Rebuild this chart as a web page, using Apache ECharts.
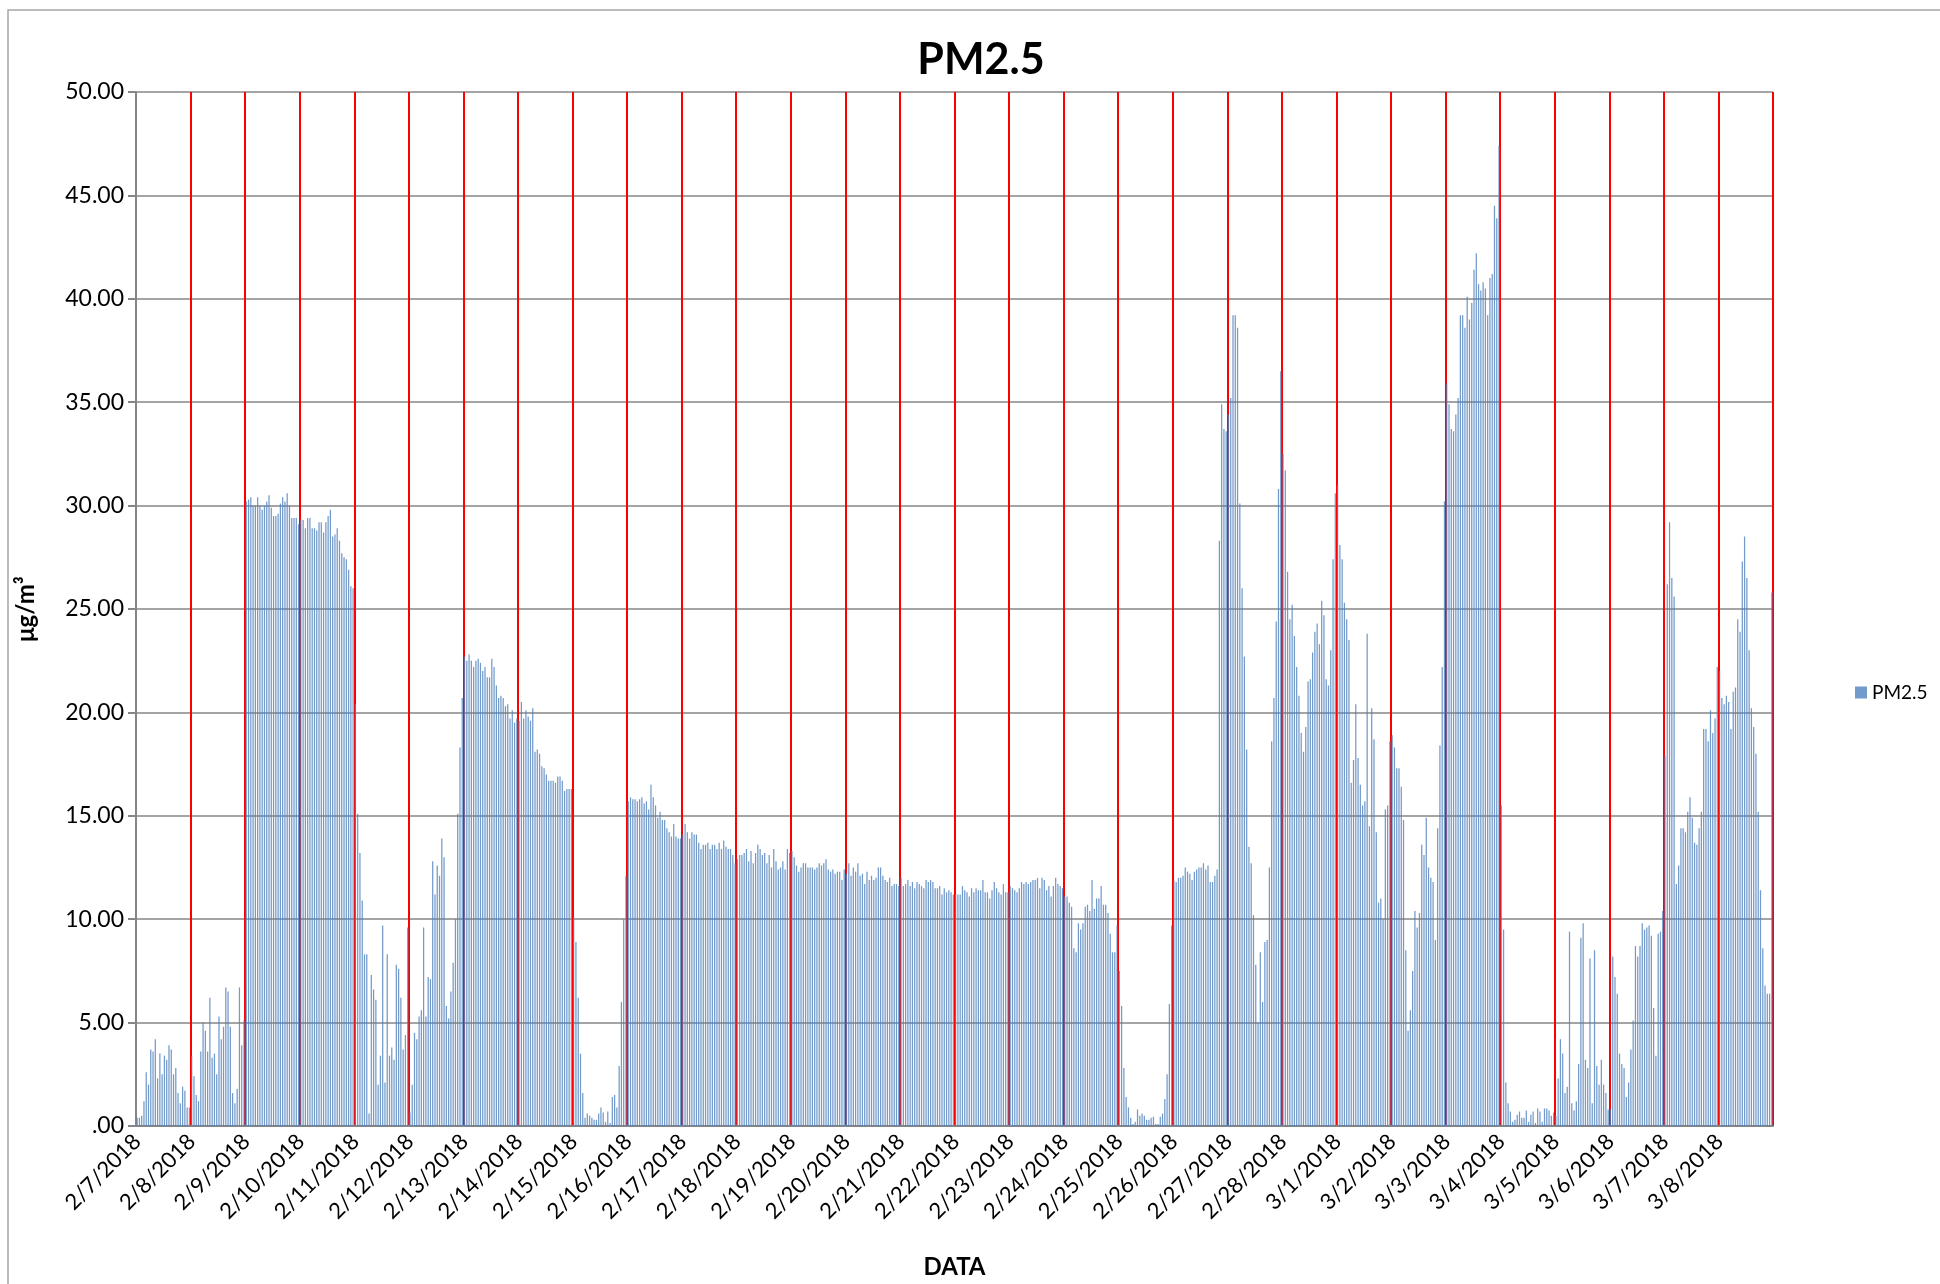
<!DOCTYPE html>
<html>
<head>
<meta charset="utf-8">
<title>PM2.5</title>
<script src="https://cdn.jsdelivr.net/npm/echarts@6/dist/echarts.min.js"></script>
<style>
  html, body { margin: 0; padding: 0; background: #fff; }
  #chart { width: 1940px; height: 1284px; }
</style>
</head>
<body>
<div id="chart"></div>
<script>
// one label per day, hourly readings below
var dayLabels = ['2/7/2018', '2/8/2018', '2/9/2018', '2/10/2018', '2/11/2018', '2/12/2018',
  '2/13/2018', '2/14/2018', '2/15/2018', '2/16/2018', '2/17/2018', '2/18/2018', '2/19/2018',
  '2/20/2018', '2/21/2018', '2/22/2018', '2/23/2018', '2/24/2018', '2/25/2018', '2/26/2018',
  '2/27/2018', '2/28/2018', '3/1/2018', '3/2/2018', '3/3/2018', '3/4/2018', '3/5/2018',
  '3/6/2018', '3/7/2018', '3/8/2018'];

var yTicks = [0, 5, 10, 15, 20, 25, 30, 35, 40, 45, 50];

// PM2.5, µg/m3, 24 values per day
var pm25 = [
  // 2/7
  0.4, 0.4, 0.5, 1.2, 2.6, 2.0, 3.7, 3.6, 4.2, 2.3, 3.5, 2.5, 3.4, 3.2, 3.9, 3.7, 2.5, 2.8, 1.6, 1.1, 1.9, 1.7, 0.9, 0.9,
  // 2/8
  3.4, 2.4, 1.5, 1.2, 3.6, 5.0, 4.6, 3.6, 6.2, 3.3, 3.5, 2.5, 5.3, 4.2, 4.8, 6.7, 6.5, 4.8, 1.6, 1.1, 1.8, 6.7, 3.9, 5.1,
  // 2/9
  30.2, 30.3, 30.4, 30.0, 30.0, 30.4, 30.0, 29.8, 30.0, 30.2, 30.5, 29.9, 29.5, 29.5, 29.6, 30.1, 30.4, 30.2, 30.6, 30.0, 29.4, 29.4, 29.4, 29.1,
  // 2/10
  29.3, 29.3, 28.9, 29.4, 29.4, 28.9, 28.9, 28.8, 29.2, 29.2, 28.7, 29.2, 29.5, 29.8, 28.5, 28.6, 28.9, 28.3, 27.7, 27.5, 27.4, 26.9, 26.1, 26.0,
  // 2/11
  20.4, 15.1, 13.2, 10.9, 8.3, 8.3, 0.6, 7.3, 6.6, 6.1, 2.0, 3.4, 9.7, 2.1, 8.3, 3.4, 3.8, 3.2, 7.8, 7.6, 6.2, 3.7, 4.4, 9.6,
  // 2/12
  0.65, 2.0, 4.5, 4.2, 5.3, 5.6, 9.6, 5.3, 7.2, 7.1, 12.8, 11.2, 12.6, 12.1, 13.9, 13.0, 5.8, 5.2, 6.5, 7.9, 10.0, 15.1, 18.3, 20.7,
  // 2/13
  22.7, 22.5, 22.8, 22.5, 22.2, 22.5, 22.6, 22.4, 22.0, 22.2, 21.7, 21.7, 22.6, 22.2, 21.3, 20.7, 20.8, 20.7, 20.3, 20.4, 19.7, 20.1, 19.5, 19.7,
  // 2/14
  19.6, 20.5, 19.7, 20.1, 19.8, 19.6, 20.2, 18.1, 18.2, 18.0, 17.4, 17.3, 17.0, 16.7, 16.7, 16.7, 16.6, 16.9, 16.9, 16.7, 16.2, 16.3, 16.3, 16.3,
  // 2/15
  10.1, 8.9, 6.2, 3.5, 1.6, 0.4, 0.6, 0.5, 0.4, 0.3, 0.3, 0.6, 0.9, 0.65, 0.2, 0.7, 0.15, 1.4, 1.5, 0.9, 2.9, 6.0, 10.0, 12.1,
  // 2/16
  15.7, 15.9, 15.8, 15.8, 15.7, 15.8, 15.9, 15.6, 15.7, 15.3, 16.5, 15.9, 15.5, 14.9, 15.2, 14.8, 14.8, 14.4, 14.2, 14.0, 14.6, 14.0, 13.9, 13.9,
  // 2/17
  14.1, 14.6, 14.2, 13.9, 14.2, 14.1, 14.1, 13.7, 13.4, 13.6, 13.6, 13.7, 13.4, 13.6, 13.6, 13.4, 13.7, 13.4, 13.8, 13.5, 13.4, 13.4, 13.1, 12.7,
  // 2/18
  12.9, 13.1, 13.1, 13.2, 13.4, 12.8, 13.3, 12.7, 13.2, 13.6, 13.4, 13.1, 13.2, 12.7, 13.1, 12.5, 13.4, 12.8, 12.4, 12.5, 12.8, 12.4, 13.4, 13.2,
  // 2/19
  13.3, 13.0, 12.6, 12.3, 12.5, 12.7, 12.7, 12.5, 12.5, 12.5, 12.4, 12.5, 12.7, 12.6, 12.7, 12.9, 12.4, 12.3, 12.4, 12.2, 12.3, 12.3, 11.9, 12.4,
  // 2/20
  12.2, 12.7, 12.1, 12.5, 12.3, 12.7, 12.1, 12.2, 11.7, 12.3, 11.9, 12.1, 11.9, 12.0, 12.5, 12.5, 12.1, 11.9, 11.8, 12.0, 11.6, 11.7, 11.7, 11.6,
  // 2/21
  12.0, 11.6, 11.7, 11.9, 11.6, 11.8, 11.5, 11.8, 11.7, 11.6, 11.5, 11.9, 11.8, 11.9, 11.8, 11.5, 11.5, 11.6, 11.2, 11.5, 11.3, 11.4, 11.3, 11.2,
  // 2/22
  11.2, 11.2, 11.2, 11.6, 11.4, 11.3, 11.1, 11.5, 11.3, 11.5, 11.4, 11.4, 11.9, 11.3, 11.3, 11.0, 11.4, 11.8, 11.5, 11.3, 11.2, 11.7, 11.3, 11.3,
  // 2/23
  11.6, 11.5, 11.4, 11.3, 11.5, 11.8, 11.7, 11.8, 11.7, 11.8, 11.9, 11.9, 12.0, 11.5, 12.0, 11.9, 11.4, 11.6, 11.1, 11.6, 12.0, 11.7, 11.6, 11.5,
  // 2/24
  11.1, 11.1, 10.8, 10.6, 8.6, 8.4, 9.8, 9.5, 9.8, 10.6, 10.7, 10.4, 11.9, 10.5, 11.0, 11.0, 11.6, 10.7, 10.7, 10.3, 9.3, 8.4, 8.4, 9.7,
  // 2/25
  7.5, 5.8, 2.8, 1.4, 0.9, 0.4, 0.1, 0.2, 0.8, 0.5, 0.6, 0.5, 0.3, 0.3, 0.4, 0.45, 0.1, 0.1, 0.45, 0.6, 1.3, 2.5, 5.9, 9.7,
  // 2/26
  11.9, 11.8, 12.0, 12.0, 12.1, 12.5, 12.3, 12.2, 11.9, 12.3, 12.4, 12.5, 12.5, 12.7, 12.4, 12.6, 11.8, 11.8, 12.1, 12.4, 28.3, 34.9, 33.7, 33.6,
  // 2/27
  34.4, 35.2, 39.2, 39.2, 38.6, 30.1, 26.0, 22.7, 18.2, 13.5, 12.7, 10.2, 7.8, 5.0, 8.4, 6.0, 8.9, 9.0, 12.5, 18.6, 20.7, 24.4, 30.8, 36.5,
  // 2/28
  32.5, 31.7, 26.8, 24.5, 25.2, 23.7, 22.2, 20.8, 19.0, 18.1, 19.3, 21.5, 21.6, 22.9, 23.9, 24.3, 23.3, 25.4, 24.7, 21.6, 21.3, 23.0, 27.4, 30.6,
  // 3/1
  31.0, 28.1, 27.4, 25.3, 24.5, 23.5, 16.6, 17.7, 20.4, 17.8, 16.5, 15.5, 15.7, 23.8, 14.5, 20.2, 18.7, 14.2, 10.8, 11.0, 10.0, 15.3, 15.5, 18.6,
  // 3/2
  18.9, 18.3, 17.3, 17.3, 16.4, 14.8, 8.5, 4.6, 5.6, 7.5, 10.4, 9.6, 10.3, 13.6, 13.1, 14.9, 12.5, 12.0, 11.8, 9.0, 14.4, 18.4, 22.2, 30.2,
  // 3/3
  35.9, 34.9, 33.7, 33.6, 34.4, 35.2, 39.2, 39.2, 38.6, 40.1, 39.0, 39.8, 41.4, 42.2, 40.7, 40.4, 40.8, 40.5, 39.2, 41.0, 41.2, 44.5, 43.9, 47.4,
  // 3/4
  15.5, 9.5, 2.1, 1.1, 0.7, 0.2, 0.3, 0.55, 0.7, 0.4, 0.4, 0.75, 0.2, 0.55, 0.7, 0.15, 0.85, 0.7, 0.2, 0.85, 0.85, 0.75, 0.5, 0.65,
  // 3/5
  0.5, 2.3, 4.2, 3.5, 1.6, 1.9, 9.4, 1.1, 0.75, 1.2, 3.0, 9.1, 9.8, 3.2, 2.8, 8.1, 1.1, 8.5, 2.9, 2.0, 3.2, 2.0, 1.6, 0.8,
  // 3/6
  0.8, 8.2, 7.2, 6.4, 3.5, 3.0, 2.8, 1.4, 2.1, 3.7, 5.1, 8.7, 8.2, 8.7, 9.8, 9.5, 9.6, 9.7, 9.2, 5.7, 3.4, 9.3, 9.4, 10.4,
  // 3/7
  17.9, 26.2, 29.2, 26.5, 25.6, 11.7, 12.6, 14.4, 14.4, 14.2, 15.2, 15.9, 14.9, 13.7, 13.6, 14.4, 15.2, 19.2, 19.2, 18.6, 20.1, 19.0, 19.7, 22.2,
  // 3/8
  22.0, 20.7, 20.4, 20.8, 20.5, 19.2, 21.0, 21.2, 24.5, 23.9, 27.3, 28.5, 26.5, 23.0, 20.2, 19.3, 18.0, 15.2, 11.4, 8.6, 6.8, 6.4, 6.4, 25.8
];

// hourly category names, date shown on the first hour of each day
var hourLabels = [];
dayLabels.forEach(function(d){
  for (var h = 0; h < 24; h++) {
    hourLabels.push(d + ' ' + h + ':00');
  }
});

var font = 'Lato, "Open Sans", sans-serif';
var gray = '#868686';

var chart = echarts.init(document.getElementById('chart'));
chart.setOption({
  animation: false,
  backgroundColor: '#fff',
  textStyle: { fontFamily: font },
  graphic: [{
    type: 'rect',
    shape: { x: 8, y: 10, width: 2000, height: 2000 },
    style: { fill: null, stroke: '#a6a6a6', lineWidth: 1.5 },
    silent: true
  }],
  title: {
    text: 'PM2.5',
    left: 976,
    top: 34,
    textAlign: 'center',
    textStyle: { fontSize: 43, fontWeight: 'bold', color: '#000', fontFamily: font }
  },
  legend: {
    data: ['PM2.5'],
    left: 1850,
    top: 678,
    icon: 'rect',
    itemWidth: 12,
    itemHeight: 12,
    itemGap: 6,
    textStyle: { fontSize: 19, color: '#000', fontFamily: font }
  },
  grid: { left: 136, right: 167, top: 92, bottom: 156 },
  xAxis: [{
    type: 'category',
    data: hourLabels,
    name: 'DATA',
    nameLocation: 'middle',
    nameGap: 129,
    nameTextStyle: { fontSize: 24, fontWeight: 'bold', color: '#000' },
    axisLine: { lineStyle: { color: gray, width: 2 } },
    axisTick: { interval: 23, length: 8, lineStyle: { color: gray, width: 2 } },
    axisLabel: {
      interval: 23,
      rotate: 45,
      margin: 12,
      fontSize: 22,
      color: '#000',
      formatter: function(v){ return v.split(' ')[0]; }
    },
    splitLine: { show: false }
  }, {
    // day separators
    type: 'value',
    min: 0,
    max: hourLabels.length,
    interval: 24,
    position: 'bottom',
    axisLine: { show: false },
    axisTick: { show: false },
    axisLabel: { show: false },
    splitLine: { show: true, showMinLine: false, lineStyle: { color: '#ff0000', width: 2 } }
  }],
  yAxis: {
    type: 'value',
    min: yTicks[0],
    max: yTicks[yTicks.length - 1],
    interval: yTicks[1] - yTicks[0],
    name: 'μg/m³',
    nameLocation: 'middle',
    nameRotate: 90,
    nameGap: 98,
    nameTextStyle: { fontSize: 24, fontWeight: 'bold', color: '#000' },
    axisLine: { show: true, lineStyle: { color: gray, width: 2 } },
    axisTick: { show: true, length: 8, lineStyle: { color: gray, width: 2 } },
    axisLabel: {
      margin: 12,
      fontSize: 23,
      color: '#000',
      formatter: function(v){ return v === 0 ? '.00' : v.toFixed(2); }
    },
    splitLine: { show: true, lineStyle: { color: gray, width: 1.5 } }
  },
  series: [{
    name: 'PM2.5',
    type: 'bar',
    xAxisIndex: 0,
    data: pm25,
    barWidth: '55%',
    itemStyle: { color: '#4f81bd', opacity: 0.8 },
    z: 1
  }]
});
</script>
</body>
</html>
